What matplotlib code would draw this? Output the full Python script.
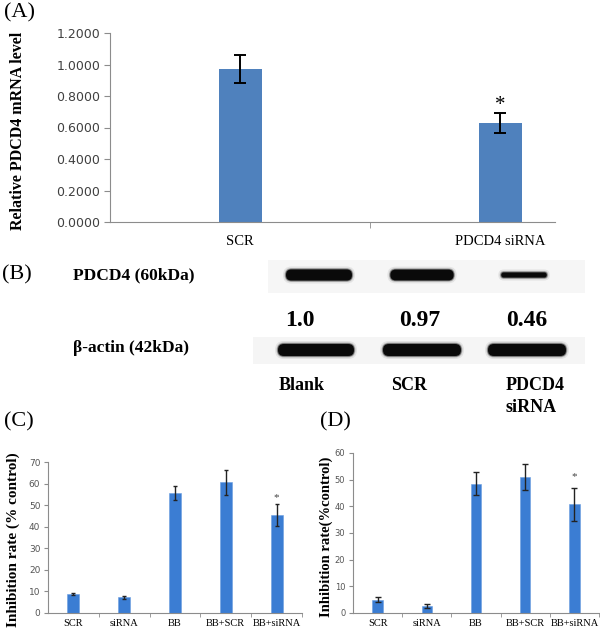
import numpy as np
import matplotlib
matplotlib.use('Agg')
from matplotlib import pyplot as plt
from matplotlib.patches import FancyBboxPatch, Rectangle

# (A) qPCR
a_labels = ['SCR', 'PDCD4 siRNA']
a_means = [0.971, 0.627]
a_errs = [0.088, 0.063]

# (B) western blot
blot_lanes = ['Blank', 'SCR', 'PDCD4\nsiRNA']
blot_ratio = [1.0, 0.97, 0.46]
blot_ratio_text = ['1.0', '0.97', '0.46']

# (C) and (D) inhibition rate
cd_labels = ['SCR', 'siRNA', 'BB', 'BB+SCR', 'BB+siRNA']
c_means = [8.8, 7.2, 55.7, 60.6, 45.4]
c_errs = [0.6, 0.8, 3.2, 5.7, 5.1]
d_means = [5.0, 2.7, 48.5, 51.0, 40.8]
d_errs = [1.0, 0.85, 4.3, 4.7, 6.2]

SERIF = 'Liberation Serif'
SANS = 'DejaVu Sans'
W, H = 600, 637
AXGRAY = '#8c8c8c'


def frac(x0, y0, x1, y1):
    # pixel box (top-left origin) -> figure fraction rect
    return [x0 / W, 1 - y1 / H, (x1 - x0) / W, (y1 - y0) / H]


fig = plt.figure(figsize=(W / 100, H / 100), dpi=100)

# ---------- (A) ----------
ax = fig.add_axes(frac(110, 33, 555, 222))
xa = np.arange(len(a_means))
ax.bar(xa, a_means, width=0.166, color='#4F81BD', yerr=a_errs,
       error_kw=dict(ecolor='black', elinewidth=1.4, capsize=4.6, capthick=1.4))
ax.set_xlim(-0.5, 1.21)
ax.set_ylim(0, 1.2)
ax.set_yticks(np.arange(0, 1.21, 0.2))
ax.set_yticklabels(['%.4f' % v for v in np.arange(0, 1.21, 0.2)],
                   fontfamily=SANS, fontsize=9, color='#404040')
ax.set_xticks(xa)
ax.set_xticklabels(a_labels, fontfamily=SERIF, fontsize=10.5)
ax.set_xticks([0.5], minor=True)
ax.tick_params(axis='x', which='major', length=0, pad=9)
ax.tick_params(axis='x', which='minor', length=4, color=AXGRAY)
ax.tick_params(axis='y', length=4, pad=3, color=AXGRAY)
for s in ['top', 'right']:
    ax.spines[s].set_visible(False)
for s in ['left', 'bottom']:
    ax.spines[s].set_color(AXGRAY)
ax.text(1, a_means[1] + a_errs[1] + 0.05, '*', ha='center', va='center',
        fontfamily=SERIF, fontsize=15)


# ---------- (C) and (D) ----------
def inhib_panel(rect, means, errs, ymax, bw, cap, star_off, tick_fs):
    a = fig.add_axes(rect)
    x = np.arange(len(means))
    a.bar(x, means, width=bw, color='#3B7DD3', edgecolor='#6a9de0', linewidth=0.4,
          yerr=errs, error_kw=dict(ecolor='#222222', elinewidth=1.0,
                                   capsize=cap, capthick=1.0))
    a.set_xlim(-0.5, len(means) - 0.5)
    a.set_ylim(0, ymax)
    a.set_yticks(np.arange(0, ymax + 1, 10))
    a.set_yticklabels([str(v) for v in range(0, ymax + 1, 10)],
                      fontfamily=SANS, fontsize=tick_fs, color='#555555')
    a.set_xticks(x)
    a.set_xticklabels(cd_labels, fontfamily=SERIF, fontsize=7.5)
    a.set_xticks(np.arange(0.5, len(means), 1), minor=True)
    a.tick_params(axis='x', which='major', length=0, pad=4)
    a.tick_params(axis='x', which='minor', length=3, color=AXGRAY)
    a.tick_params(axis='y', length=3, pad=2.5, color=AXGRAY)
    for s in ['top', 'right']:
        a.spines[s].set_visible(False)
    for s in ['left', 'bottom']:
        a.spines[s].set_color(AXGRAY)
    a.text(4, means[4] + errs[4] + star_off, '*', ha='center', va='center',
           fontfamily=SERIF, fontsize=8, color='#444444')
    return a


inhib_panel(frac(48, 462, 302, 613), c_means, c_errs, 70, 0.24, 1.7, 2.9, 6.5)
inhib_panel(frac(353, 453, 599, 613), d_means, d_errs, 60, 0.21, 2.2, 4.0, 6)

# ---------- overlay in pixel coordinates: labels and blot ----------
ov = fig.add_axes([0, 0, 1, 1])
ov.set_xlim(0, W)
ov.set_ylim(H, 0)
ov.axis('off')

ov.text(4, 13, '(A)', fontfamily=SERIF, fontsize=16, va='center', ha='left')
ov.text(2, 275, '(B)', fontfamily=SERIF, fontsize=16, va='center', ha='left')
ov.text(4, 422, '(C)', fontfamily=SERIF, fontsize=16, va='center', ha='left')
ov.text(320, 422, '(D)', fontfamily=SERIF, fontsize=16, va='center', ha='left')

ov.text(18, 131, 'Relative PDCD4 mRNA level', rotation=90, ha='center', va='center',
        fontfamily=SERIF, fontweight='bold', fontsize=11.5)
ov.text(13, 540, 'Inhibition rate (% control)', rotation=90, ha='center', va='center',
        fontfamily=SERIF, fontweight='bold', fontsize=11)
ov.text(326, 537, 'Inhibition rate(%control)', rotation=90, ha='center', va='center',
        fontfamily=SERIF, fontweight='bold', fontsize=10.5)

# blot strips
ov.add_patch(Rectangle((268, 260), 317, 33, color='#f6f6f6', lw=0))
ov.add_patch(Rectangle((253, 337), 332, 27, color='#f5f5f5', lw=0))


def band(xc, yc, w, h):
    for grow, alpha in [(6, 0.08), (3, 0.2), (1.5, 0.45), (0, 1.0)]:
        ww, hh = w + grow, h + grow
        ov.add_patch(FancyBboxPatch((xc - ww / 2, yc - hh / 2), ww, hh,
                                    boxstyle='round,pad=0,rounding_size=%f' % (hh / 2),
                                    color='#0a0a0a', alpha=alpha, lw=0))


pdcd4_x = [319, 422, 524]
pdcd4_w = [66, 64, 58]
actin_x = [316, 422, 527]
actin_w = [76, 78, 78]
for i, r in enumerate(blot_ratio):
    band(pdcd4_x[i], 275, pdcd4_w[i] * (0.6 + 0.4 * r), 11 * r)
    band(actin_x[i], 350, actin_w[i], 12)

ov.text(73, 275, 'PDCD4 (60kDa)', fontfamily=SERIF, fontweight='bold', fontsize=12.5,
        ha='left', va='center')
ov.text(73, 348, '\u03b2-actin (42kDa)', fontfamily=SERIF, fontweight='bold', fontsize=12.5,
        ha='left', va='center')

num_x = [300, 420, 527]
for xx, t in zip(num_x, blot_ratio_text):
    ov.text(xx, 320, t, fontfamily=SERIF, fontweight='bold', fontsize=17,
            ha='center', va='center')

lane_x = [302, 409, 535]
for xx, t in zip(lane_x, blot_lanes):
    for k, ln in enumerate(t.split('\n')):
        ov.text(xx - 4 * k, 385 + 23 * k, ln, fontfamily=SERIF, fontweight='bold',
                fontsize=13, ha='center', va='center')

plt.savefig('out.png', dpi=100)
